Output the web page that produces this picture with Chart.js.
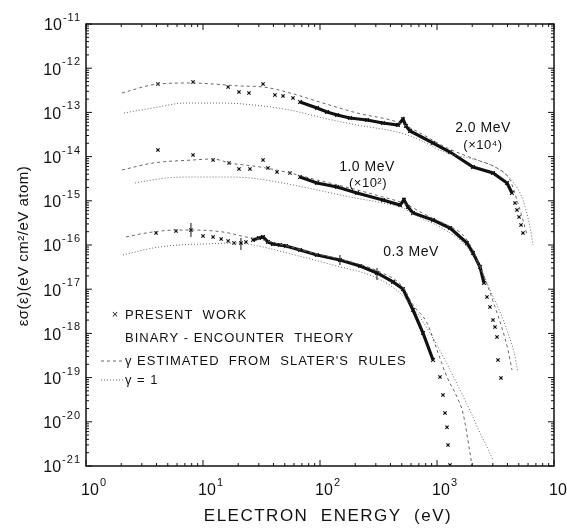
<!doctype html>
<html>
<head>
<meta charset="utf-8">
<title>Electron energy spectra</title>
<script src="https://cdn.jsdelivr.net/npm/chart.js"></script>
<style>
  html, body { margin: 0; padding: 0; background: #fff; }
</style>
</head>
<body>
<canvas id="spec" width="567" height="529"></canvas>
<script>
// tick decades (labels are drawn as 10 with an exponent)
const xDecades = [0, 1, 2, 3, 4];
const yDecades = [-11, -12, -13, -14, -15, -16, -17, -18, -19, -20, -21];

// ---- 2.0 MeV (x10^4) ----
const e20Data = [4.12, 8.22, 16.4, 20.3, 24.7, 32.6, 41.2, 48.3, 58.8];
const s20Data = [4.39e-13, 4.88e-13, 3.76e-13, 2.90e-13, 2.75e-13, 4.39e-13, 2.48e-13, 2.35e-13, 2.12e-13];
const e20Dense = [67.5, 94.2, 115, 140, 180, 252, 345, 464, 512, 543, 588, 925, 1291, 2032, 3010, 3966, 4375];
const s20Dense = [1.72e-13, 1.26e-13, 1.02e-13, 8.73e-14, 7.47e-14, 6.73e-14, 5.75e-14, 5.19e-14, 7.0e-14, 4.92e-14, 3.79e-14, 2.03e-14, 1.27e-14, 5.82e-15, 4.26e-15, 2.53e-15, 1.50e-15];
const e20Tail = [4641, 4827, 5023, 5224, 5430];
const s20Tail = [8.9e-16, 6.2e-16, 4.3e-16, 2.83e-16, 1.87e-16];
const e20Slater = [2.03, 4.12, 8.22, 12.2, 20.7, 32.6, 55.4, 106, 207, 455, 716, 1217, 2197, 3257, 4207, 4827, 5430, 5876];
const s20Slater = [2.75e-13, 4.39e-13, 4.63e-13, 4.39e-13, 3.96e-13, 3.76e-13, 2.75e-13, 1.63e-13, 9.69e-14, 6.07e-14, 3.42e-14, 1.57e-14, 8.38e-15, 5.52e-15, 2.96e-15, 1.04e-15, 3.68e-16, 1.68e-16];
const e20Gamma1 = [2.11, 3.74, 7.16, 13.7, 22.0, 55.4, 106, 207, 455, 624, 1217, 2333, 3454, 4462, 5430, 6237, 6619];
const s20Gamma1 = [9.69e-14, 1.26e-13, 1.63e-13, 1.63e-13, 1.55e-13, 1.13e-13, 7.47e-14, 5.19e-14, 3.61e-14, 2.78e-14, 1.21e-14, 7.95e-15, 4.98e-15, 2.66e-15, 1.04e-15, 2.55e-16, 1.0e-16];

// ---- 1.0 MeV (x10^2) ----
const e10Data = [4.12, 8.22, 12.2, 16.7, 20.3, 25.2, 32.6, 35.9, 42.9, 55.4];
const s10Data = [1.41e-14, 1.09e-14, 8.38e-15, 7.16e-15, 5.24e-15, 5.24e-15, 8.38e-15, 5.52e-15, 4.49e-15, 4.26e-15];
const e10Dense = [67.5, 94.2, 140, 207, 345, 483, 522, 565, 624, 925, 1291, 1804, 2032, 2333, 2522];
const s10Dense = [3.45e-15, 2.53e-15, 2.05e-15, 1.50e-15, 1.04e-15, 8.0e-16, 1.05e-15, 7.24e-16, 5.30e-16, 3.68e-16, 2.43e-16, 1.11e-16, 6.59e-17, 3.18e-17, 1.38e-17];
const e10Tail = [2674, 2837, 3010, 3131, 3257, 3321, 3522];
const s10Tail = [6.67e-18, 3.96e-18, 2.01e-18, 1.40e-18, 8.3e-19, 2.50e-19, 9.8e-20];
const e10Slater = [2.03, 3.74, 8.22, 12.2, 17.0, 30.7, 55.4, 94.2, 180, 345, 512, 871, 1217, 1668, 2032, 2333, 2674, 3069, 3594, 4045, 4375];
const s10Slater = [4.98e-15, 7.16e-15, 8.38e-15, 8.83e-15, 7.16e-15, 5.82e-15, 4.26e-15, 2.96e-15, 1.95e-15, 1.22e-15, 8.9e-16, 4.30e-16, 2.83e-16, 1.68e-16, 7.7e-17, 3.35e-17, 1.31e-17, 4.62e-18, 1.32e-18, 4.21e-19, 1.49e-19];
const e10Gamma1 = [2.62, 4.83, 8.71, 17.0, 25.2, 48.3, 94.2, 180, 345, 512, 624, 1217, 1804, 2333, 2837, 3454, 4045, 4550, 4921];
const s10Gamma1 = [2.53e-15, 3.28e-15, 3.45e-15, 3.45e-15, 3.28e-15, 2.53e-15, 1.76e-15, 1.22e-15, 8.9e-16, 6.87e-16, 5.03e-16, 2.07e-16, 9.0e-17, 3.02e-17, 9.6e-18, 3.05e-18, 1.02e-18, 3.79e-19, 1.34e-19];

// ---- 0.3 MeV ----
const e03Data = [3.97, 5.88, 7.89, 10.0, 12.2, 14.3, 16.4, 18.4, 21.1, 23.3];
const s03Data = [1.87e-16, 2.07e-16, 2.18e-16, 1.60e-16, 1.52e-16, 1.37e-16, 1.23e-16, 1.11e-16, 1.11e-16, 1.17e-16];
const e03Dense = [26.7, 30.1, 32.6, 35.9, 39.6, 45.5, 51.2, 67.5, 94.2, 148, 220, 307, 421, 512, 624, 759, 925];
const s03Dense = [1.30e-16, 1.44e-16, 1.52e-16, 1.17e-16, 1.05e-16, 1.0e-16, 9.5e-17, 7.7e-17, 5.94e-17, 4.58e-17, 3.35e-17, 2.33e-17, 1.46e-17, 1.01e-17, 3.38e-18, 1.02e-18, 2.50e-19];
const e03Tail = [1061, 1125, 1170, 1217, 1242, 1291];
const s03Tail = [1.03e-19, 4.04e-20, 1.58e-20, 7.5e-21, 2.99e-21, 1.05e-21];
const e03Slater = [2.2, 3.26, 5.88, 7.89, 14.8, 23.3, 32.6, 52.2, 87.1, 148, 326, 512, 624, 822, 1000, 1217, 1482, 1668, 1914, 1991];
const s03Slater = [1.52e-16, 1.87e-16, 2.18e-16, 2.18e-16, 1.97e-16, 1.52e-16, 1.30e-16, 9.5e-17, 6.59e-17, 4.82e-17, 2.45e-17, 1.12e-17, 4.39e-18, 1.72e-18, 4.21e-19, 1.03e-19, 3.64e-20, 1.58e-20, 1.97e-21, 1.0e-21];
const e03Gamma1 = [2.07, 3.74, 6.24, 10.0, 19.1, 32.6, 52.2, 129, 307, 483, 649, 871, 1170, 1573, 1991, 2333, 2674, 3010];
const s03Gamma1 = [5.94e-17, 8.55e-17, 1.0e-16, 1.05e-16, 1.11e-16, 9.0e-17, 6.59e-17, 3.53e-17, 1.79e-17, 8.2e-18, 3.38e-18, 1.02e-18, 2.50e-19, 5.24e-20, 1.43e-20, 5.58e-21, 2.69e-21, 1.37e-21];

// error bars on a few 0.3 MeV points
const errE = [7.89, 21.1, 148, 307];
const errLo = [1.52e-16, 7.7e-17, 3.53e-17, 1.61e-17];
const errHi = [3.15e-16, 1.44e-16, 5.94e-17, 3.02e-17];

const FONT = '"Liberation Sans", Arial, sans-serif';
const INK = '#111';
const THEORY = '#666';

function pts(xs, ys) { return xs.map((x, i) => ({ x: x, y: ys[i] })); }

function crosses(xs, ys) {
  return { data: pts(xs, ys), showLine: false, pointStyle: 'crossRot', pointRadius: 2.3,
           borderColor: INK, backgroundColor: INK, pointBorderWidth: 1.2 };
}
function dense(xs, ys) {
  return { data: pts(xs, ys), showLine: true, borderColor: INK, borderWidth: 3.2,
           pointStyle: 'crossRot', pointRadius: 2.6, pointBorderWidth: 1.2, tension: 0 };
}
function slater(xs, ys) {
  return { data: pts(xs, ys), showLine: true, borderColor: THEORY, borderWidth: 1,
           borderDash: [3, 3], pointRadius: 0, cubicInterpolationMode: 'monotone' };
}
function gamma1(xs, ys) {
  return { data: pts(xs, ys), showLine: true, borderColor: THEORY, borderWidth: 1,
           borderDash: [1, 2], pointRadius: 0, cubicInterpolationMode: 'monotone' };
}

// "10" with a raised exponent
function drawPow(ctx, exp, x, y, align) {
  ctx.save();
  ctx.textBaseline = 'middle';
  ctx.textAlign = 'left';
  ctx.letterSpacing = '0px';
  ctx.font = '16px ' + FONT;
  const wb = ctx.measureText('10').width;
  ctx.font = '11px ' + FONT;
  ctx.letterSpacing = '1px';
  const we = ctx.measureText(String(exp)).width;
  let x0 = x;
  if (align === 'right') x0 = x - wb - we - 1;
  if (align === 'base') x0 = x - wb / 2;
  ctx.font = '16px ' + FONT;
  ctx.letterSpacing = '0px';
  ctx.fillText('10', x0, y);
  ctx.font = '11px ' + FONT;
  ctx.letterSpacing = '1px';
  ctx.fillText(String(exp), x0 + wb + 1, y - 8);
  ctx.restore();
}

function txt(ctx, s, x, y, size, align, spacing) {
  ctx.font = size + 'px ' + FONT;
  ctx.letterSpacing = (spacing || 0) + 'px';
  ctx.textAlign = align || 'left';
  ctx.textBaseline = 'middle';
  ctx.fillText(s, x, y);
}

const decor = {
  id: 'decor',
  afterDraw(chart) {
    const { ctx, chartArea: a, scales } = chart;
    const xs = scales.x, ys = scales.y;
    ctx.save();
    ctx.fillStyle = INK;
    ctx.strokeStyle = INK;

    // error bars
    ctx.lineWidth = 1;
    errE.forEach((e, i) => {
      const px = xs.getPixelForValue(e);
      ctx.beginPath();
      ctx.moveTo(px, ys.getPixelForValue(errLo[i]));
      ctx.lineTo(px, ys.getPixelForValue(errHi[i]));
      ctx.stroke();
    });

    // frame
    ctx.lineWidth = 1.5;
    ctx.strokeRect(a.left, a.top, a.right - a.left, a.bottom - a.top);

    // ticks on all four sides
    ctx.lineWidth = 1;
    ctx.beginPath();
    for (let d = xDecades[0]; d <= xDecades[xDecades.length - 1]; d++) {
      for (let m = 1; m <= 9; m++) {
        const v = m * Math.pow(10, d);
        if (v > 1e4) break;
        const px = xs.getPixelForValue(v);
        const len = m === 1 ? 6 : 3;
        ctx.moveTo(px, a.bottom); ctx.lineTo(px, a.bottom - len);
        ctx.moveTo(px, a.top); ctx.lineTo(px, a.top + len);
      }
    }
    for (let d = -21; d <= -11; d++) {
      for (let m = 1; m <= 9; m++) {
        const v = m * Math.pow(10, d);
        if (v > 1e-11) break;
        const py = ys.getPixelForValue(v);
        const len = m === 1 ? 6 : 3;
        ctx.moveTo(a.left, py); ctx.lineTo(a.left + len, py);
        ctx.moveTo(a.right, py); ctx.lineTo(a.right - len, py);
      }
    }
    ctx.stroke();

    // tick labels
    xDecades.forEach(d => drawPow(ctx, d, xs.getPixelForValue(Math.pow(10, d)) + 4, 491, 'base'));
    yDecades.forEach(d => drawPow(ctx, d, 81, ys.getPixelForValue(Math.pow(10, d)) + 2, 'right'));

    // axis titles
    txt(ctx, 'ELECTRON  ENERGY  (eV)', 328, 516, 17, 'center', 1.5);
    ctx.save();
    ctx.translate(24, 246);
    ctx.rotate(-Math.PI / 2);
    txt(ctx, 'εσ(ε)(eV cm²/eV atom)', 0, 0, 15, 'center', 0.5);
    ctx.restore();

    // curve labels
    txt(ctx, '2.0 MeV', 483, 128, 14, 'center', 0.5);
    txt(ctx, '(×10⁴)', 483, 145, 13, 'center', 0.5);
    txt(ctx, '1.0 MeV', 367, 167, 14, 'center', 0.5);
    txt(ctx, '(×10²)', 368, 183, 13, 'center', 0.5);
    txt(ctx, '0.3 MeV', 411, 252, 14, 'center', 0.5);

    // key
    txt(ctx, '×', 115, 315, 11, 'center');
    txt(ctx, 'PRESENT  WORK', 125, 315, 13, 'left', 1);
    txt(ctx, 'BINARY - ENCOUNTER  THEORY', 125, 338, 13, 'left', 1);
    txt(ctx, 'γ ESTIMATED  FROM  SLATER\'S  RULES', 125, 361, 13, 'left', 1);
    txt(ctx, 'γ = 1', 125, 380, 13, 'left', 1);
    ctx.strokeStyle = THEORY;
    ctx.lineWidth = 1;
    ctx.setLineDash([3, 3]);
    ctx.beginPath(); ctx.moveTo(101, 361); ctx.lineTo(124, 361); ctx.stroke();
    ctx.setLineDash([1, 2]);
    ctx.beginPath(); ctx.moveTo(101, 380); ctx.lineTo(124, 380); ctx.stroke();
    ctx.restore();
  }
};

new Chart(document.getElementById('spec'), {
  type: 'scatter',
  data: {
    datasets: [
      slater(e20Slater, s20Slater), gamma1(e20Gamma1, s20Gamma1),
      slater(e10Slater, s10Slater), gamma1(e10Gamma1, s10Gamma1),
      slater(e03Slater, s03Slater), gamma1(e03Gamma1, s03Gamma1),
      crosses(e20Data, s20Data), dense(e20Dense, s20Dense), crosses(e20Tail, s20Tail),
      crosses(e10Data, s10Data), dense(e10Dense, s10Dense), crosses(e10Tail, s10Tail),
      crosses(e03Data, s03Data), dense(e03Dense, s03Dense), crosses(e03Tail, s03Tail)
    ]
  },
  options: {
    responsive: false,
    animation: false,
    layout: { padding: { left: 86, right: 13, top: 24, bottom: 63 } },
    plugins: { legend: { display: false }, tooltip: { enabled: false } },
    scales: {
      x: { type: 'logarithmic', min: 1, max: 1e4, display: false },
      y: { type: 'logarithmic', min: 1e-21, max: 1e-11, display: false }
    }
  },
  plugins: [decor]
});
</script>
</body>
</html>
